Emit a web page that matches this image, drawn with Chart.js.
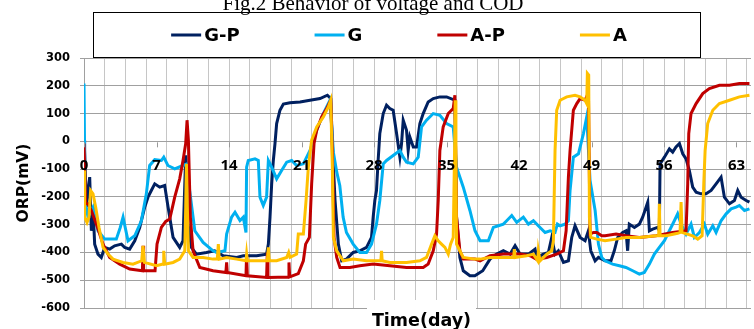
<!DOCTYPE html>
<html lang="en">
<head>
<meta charset="UTF-8">
<title>ORP over time</title>
<script src="https://cdn.jsdelivr.net/npm/chart.js"></script>
<style>
  html, body { margin: 0; padding: 0; background: #fff; }
  #wrap { width: 754px; height: 329px; position: relative; }
</style>
</head>
<body>
<div id="wrap"><canvas id="chart"></canvas></div>
<script>
// tick labels shown along the zero line (days)
const dayLabels = [0, 7, 14, 21, 28, 35, 42, 49, 56, 63];
const seriesNames = ['G-P', 'G', 'A-P', 'A'];
const figTitle = 'Fig.2 Behavior of voltage and COD';

// [day, ORP mV]
const gpData = [[0,4],[0.06,-33],[0.23,-237],[0.39,-177],[0.55,-129],[0.71,-322],[0.87,-237],[1.03,-370],[1.35,-406],[1.67,-418],[2.0,-382],[2.48,-388],[2.96,-376],[3.61,-370],[3.93,-382],[4.41,-388],[4.9,-358],[5.38,-310],[5.86,-237],[6.18,-201],[6.5,-177],[6.83,-153],[7.31,-165],[7.79,-159],[8.12,-237],[8.6,-346],[9.24,-382],[9.56,-358],[9.82,-50],[10.05,-298],[10.37,-382],[10.85,-406],[11.82,-400],[12.62,-394],[13.45,-412],[14.74,-418],[15.38,-412],[16.67,-412],[17.63,-406],[17.8,-370],[17.96,-273],[18.12,-153],[18.28,-69],[18.44,-8],[18.6,64],[18.92,112],[19.25,134],[19.89,139],[20.86,142],[21.82,148],[22.79,154],[23.5,166],[23.82,154],[24.01,-33],[24.24,-213],[24.56,-370],[24.88,-430],[25.34,-424],[25.99,-400],[26.63,-394],[27.28,-382],[27.76,-346],[27.92,-273],[28.08,-213],[28.24,-177],[28.4,-69],[28.56,28],[28.89,100],[29.21,130],[29.53,118],[29.85,112],[30.18,28],[30.5,-57],[30.66,-8],[30.82,76],[31.14,40],[31.3,-33],[31.46,16],[31.79,-20],[32.11,-20],[32.43,64],[32.75,100],[33.23,142],[33.72,154],[34.36,160],[35.01,160],[35.81,148],[35.97,-273],[36.29,-418],[36.62,-466],[37.26,-484],[37.74,-484],[38.5,-466],[39.2,-424],[39.85,-406],[40.49,-394],[41.14,-406],[41.62,-376],[42.1,-406],[42.91,-406],[43.55,-388],[43.71,-418],[44.36,-406],[44.84,-400],[45.16,-346],[45.48,-406],[45.8,-394],[46.29,-436],[46.77,-430],[47.09,-346],[47.41,-304],[47.9,-346],[48.38,-358],[48.7,-322],[48.93,-394],[49.35,-430],[49.67,-418],[50.31,-430],[50.88,-430],[51.2,-394],[51.53,-346],[52.01,-328],[52.33,-322],[52.49,-394],[52.65,-298],[53.14,-310],[53.62,-298],[53.94,-273],[54.43,-219],[54.59,-322],[54.91,-316],[55.39,-310],[55.55,-322],[55.62,-81],[56.04,-57],[56.52,-27],[56.84,-39],[57.16,-20],[57.49,-8],[57.81,-45],[58.13,-63],[58.45,-105],[58.77,-165],[59.1,-183],[59.58,-189],[60.06,-189],[60.55,-177],[61.03,-153],[61.51,-129],[61.83,-201],[62.32,-225],[62.8,-213],[63.12,-177],[63.44,-201],[63.93,-213],[64.25,-219]];

const gData = [[0,208],[0.1,-213],[0.39,-273],[0.87,-237],[1.35,-322],[2.0,-352],[3.12,-352],[3.5,-310],[3.77,-273],[4.25,-358],[4.9,-340],[5.54,-286],[6.02,-189],[6.34,-87],[6.83,-66],[7.47,-69],[7.7,-57],[8.1,-87],[8.76,-99],[9.56,-87],[9.95,-81],[10.2,-177],[10.7,-322],[11.5,-364],[12.46,-394],[12.8,-400],[13.61,-394],[13.77,-334],[14.25,-273],[14.58,-255],[15.06,-285],[15.38,-273],[15.64,-328],[15.7,-93],[15.86,-69],[16.51,-63],[16.83,-69],[16.99,-201],[17.31,-231],[17.63,-201],[17.8,-69],[18.12,-93],[18.6,-135],[19.08,-105],[19.57,-75],[20.05,-69],[20.53,-87],[21.18,-81],[21.82,-33],[22.47,40],[23.11,100],[23.75,148],[24.08,-40],[24.4,-110],[24.7,-160],[25.02,-273],[25.34,-328],[25.99,-370],[26.63,-400],[27.28,-400],[27.76,-370],[28.24,-298],[28.56,-213],[28.89,-81],[29.21,-69],[29.85,-51],[30.5,-33],[30.82,-57],[31.14,-75],[31.79,-81],[32.27,-57],[32.59,52],[33.07,76],[33.72,100],[34.36,94],[35.01,64],[35.65,52],[35.97,-93],[36.62,-165],[37.26,-249],[37.75,-322],[38.24,-358],[39.04,-358],[39.52,-310],[40.01,-304],[40.49,-298],[40.81,-286],[41.3,-267],[41.78,-292],[42.42,-273],[42.91,-298],[43.39,-286],[44.03,-310],[44.52,-328],[45.0,-322],[45.48,-328],[45.71,-298],[45.97,-304],[46.45,-298],[46.77,-286],[46.93,-177],[47.25,-57],[47.74,-45],[48.22,28],[48.54,88],[48.86,-141],[49.35,-249],[49.67,-370],[49.99,-418],[50.31,-430],[51.04,-442],[51.69,-448],[52.33,-454],[52.98,-466],[53.62,-478],[54.1,-472],[54.59,-442],[55.07,-406],[55.55,-382],[56.04,-358],[56.52,-322],[57.0,-286],[57.32,-261],[57.65,-298],[58.13,-334],[58.61,-298],[58.93,-346],[59.42,-328],[59.9,-298],[60.22,-334],[60.71,-304],[61.03,-328],[61.51,-286],[62.0,-261],[62.48,-243],[62.96,-237],[63.28,-231],[63.77,-249],[64.25,-243]];

const apData = [[0,-8],[0.16,-225],[0.39,-225],[0.71,-249],[1.19,-298],[1.84,-370],[2.48,-418],[3.45,-442],[4.41,-460],[5.64,-466],[5.7,-376],[5.76,-466],[6.86,-466],[7.05,-370],[7.47,-310],[7.89,-288],[8.28,-280],[8.76,-201],[9.24,-135],[9.56,-69],[9.82,-8],[9.95,76],[10.08,4],[10.27,-273],[10.53,-394],[11.18,-454],[12.46,-466],[13.7,-472],[13.77,-436],[13.83,-472],[15.64,-484],[15.7,-406],[15.77,-484],[17.63,-490],[17.7,-400],[17.76,-490],[19.73,-488],[19.79,-436],[19.86,-488],[20.69,-476],[21.18,-430],[21.4,-370],[21.76,-346],[21.98,-153],[22.21,-8],[22.47,40],[22.95,88],[23.43,118],[23.82,148],[23.98,-33],[24.14,-346],[24.4,-418],[24.72,-454],[25.67,-454],[26.63,-448],[27.92,-442],[29.53,-448],[31.14,-454],[32.75,-454],[33.23,-442],[33.72,-394],[34.04,-334],[34.2,-213],[34.36,-33],[34.68,52],[35.17,100],[35.65,118],[35.81,166],[35.97,-273],[36.29,-394],[36.62,-424],[37.74,-424],[38.24,-430],[39.2,-412],[40.49,-406],[42.1,-406],[43.07,-412],[43.71,-425],[44.68,-418],[45.64,-406],[46.29,-394],[46.55,-322],[46.77,-129],[46.93,-33],[47.25,112],[47.58,136],[47.9,154],[48.38,148],[48.6,166],[48.7,190],[48.86,-334],[49.19,-328],[49.51,-328],[49.99,-340],[50.31,-340],[51.37,-334],[52.33,-340],[53.62,-346],[55.23,-340],[56.84,-328],[58.13,-322],[58.29,-153],[58.39,28],[58.61,100],[59.1,136],[59.74,172],[60.38,190],[61.35,202],[62.32,202],[63.28,208],[64.25,208]];

const aData = [[0,-105],[0.06,-273],[0.29,-292],[0.48,-273],[0.64,-177],[0.87,-189],[1.13,-237],[1.45,-310],[1.84,-382],[2.32,-406],[2.8,-424],[3.77,-436],[4.73,-442],[5.57,-430],[5.7,-376],[5.83,-436],[6.99,-448],[7.63,-442],[7.7,-394],[7.79,-442],[8.6,-436],[9.24,-424],[9.73,-394],[9.82,-237],[9.89,-81],[9.98,-237],[10.08,-394],[10.53,-418],[11.5,-418],[12.46,-424],[12.87,-424],[12.97,-370],[13.06,-424],[13.77,-418],[14.74,-424],[15.64,-430],[15.7,-406],[15.77,-430],[17.7,-430],[17.8,-382],[17.89,-430],[18.6,-430],[19.57,-418],[19.76,-400],[19.89,-418],[20.53,-406],[20.69,-334],[21.18,-334],[21.44,-213],[21.66,-93],[21.98,4],[22.47,52],[23.11,88],[23.59,124],[23.82,148],[23.98,-93],[24.08,-346],[24.4,-394],[25.04,-430],[25.99,-424],[27.28,-430],[28.66,-430],[28.73,-394],[28.79,-430],[29.53,-436],[31.14,-436],[32.43,-430],[33.07,-418],[33.56,-370],[33.88,-340],[34.2,-358],[34.52,-370],[34.85,-382],[35.17,-406],[35.39,-370],[35.65,-346],[35.78,-33],[35.84,148],[35.91,-33],[35.97,-370],[36.29,-394],[36.62,-418],[37.74,-424],[38.24,-424],[39.2,-418],[40.49,-418],[41.49,-418],[41.55,-388],[41.62,-418],[42.74,-412],[43.39,-406],[43.81,-430],[43.87,-394],[44.03,-430],[44.68,-406],[45.16,-394],[45.32,-358],[45.48,-33],[45.64,112],[45.97,148],[46.61,160],[47.41,166],[47.9,160],[48.38,148],[48.54,136],[48.6,245],[48.73,239],[48.8,-273],[48.93,-346],[49.51,-352],[50.31,-358],[51.37,-352],[52.33,-346],[53.62,-346],[55.23,-340],[55.49,-340],[55.55,-225],[55.62,-340],[56.2,-340],[57.32,-331],[57.55,-328],[57.65,-219],[57.74,-328],[58.77,-340],[59.26,-352],[59.68,-340],[59.84,-153],[59.97,-33],[60.22,64],[60.71,112],[61.35,136],[62.32,148],[63.28,160],[64.25,166]];

const seriesColors = ['#002060', '#00B0F0', '#C00000', '#FFC000'];
const allSeries = [gpData, gData, apData, aData];

const toPoints = arr => arr.map(p => ({ x: p[0], y: p[1] }));

// draws title, legend box, day labels and axis titles
const decorations = {
    id: 'decorations',
    afterDraw(chart) {
        const c = chart.ctx;
        const xs = chart.scales.x;
        const ys = chart.scales.y;
        const y0 = ys.getPixelForValue(0);
        c.save();

        // day ticks and labels on the zero line
        c.strokeStyle = '#999';
        c.lineWidth = 1;
        c.fillStyle = '#000';
        c.font = 'bold 15px "Open Sans"';
        c.textAlign = 'center';
        c.textBaseline = 'middle';
        dayLabels.forEach(d => {
            const px = Math.round(xs.getPixelForValue(d)) + 0.5;
            c.beginPath();
            c.moveTo(px, y0 + 1);
            c.lineTo(px, y0 + 6);
            c.stroke();
            c.fillText(String(d), xs.getPixelForValue(d), y0 + 24.5);
        });

        // x title with white patch
        c.fillStyle = '#fff';
        c.fillRect(367, 300, 109, 29);
        c.fillStyle = '#000';
        c.font = 'bold 17.5px "DejaVu Sans"';
        c.textBaseline = 'alphabetic';
        c.fillText('Time(day)', (chart.chartArea.left + chart.chartArea.right) / 2 + 4, 326);

        // y title
        c.save();
        c.translate(24, (chart.chartArea.top + chart.chartArea.bottom) / 2);
        c.rotate(-Math.PI / 2);
        c.font = 'bold 15.5px "DejaVu Sans"';
        c.textBaseline = 'middle';
        c.fillText('ORP(mV)', 0, 0);
        c.restore();

        // legend box
        c.fillStyle = '#fff';
        c.fillRect(93, 12, 608, 45.5);
        c.strokeStyle = '#000';
        c.lineWidth = 1;
        c.strokeRect(93.5, 12.5, 607, 45);

        c.font = 'bold 18px "DejaVu Sans"';
        c.textAlign = 'left';
        c.textBaseline = 'middle';
        const lineLen = 30, gap = 3, spacing = 75;
        const widths = seriesNames.map(n => lineLen + gap + c.measureText(n).width);
        const total = widths.reduce((a, b) => a + b, 0) + spacing * (seriesNames.length - 1);
        let lx = 399 - total / 2;
        const ly = 35;
        seriesNames.forEach((n, i) => {
            c.fillStyle = seriesColors[i];
            c.fillRect(lx, ly - 1.5, lineLen, 3);
            c.fillStyle = '#000';
            c.fillText(n, lx + lineLen + gap, ly + 1);
            lx += widths[i] + spacing;
        });

        // clipped figure title at the very top
        c.font = '21px "Liberation Serif"';
        c.textAlign = 'center';
        c.textBaseline = 'alphabetic';
        c.fillText(figTitle, 373, 10);

        c.restore();
    }
};

const ctx = document.getElementById('chart').getContext('2d');
const chart = new Chart(ctx, {
    type: 'line',
    data: {
        datasets: seriesNames.map((name, i) => ({
            label: name,
            data: toPoints(allSeries[i]),
            borderColor: seriesColors[i],
            backgroundColor: seriesColors[i],
            borderWidth: 3,
            pointRadius: 0,
            tension: 0,
            fill: false,
            order: seriesNames.length - i
        }))
    },
    options: {
        responsive: true,
        maintainAspectRatio: false,
        animation: false,
        devicePixelRatio: 1,
        layout: { padding: { top: 58, right: 3, left: 0, bottom: 0 } },
        plugins: {
            legend: { display: false },
            title: { display: false },
            tooltip: { enabled: false }
        },
        scales: {
            x: {
                type: 'linear',
                min: 0,
                max: 64.4,
                afterBuildTicks: s => {
                    const t = [];
                    for (let d = 0; d <= 64; d += 2) t.push({ value: d });
                    s.ticks = t;
                },
                afterFit: s => { s.height = 21; },
                ticks: { display: false },
                grid: { color: '#c6c6c6', lineWidth: 1, drawTicks: false },
                border: { display: false }
            },
            y: {
                min: -600,
                max: 300,
                afterFit: s => { s.width = 84; },
                ticks: {
                    stepSize: 100,
                    color: '#000',
                    padding: 10,
                    font: { family: 'DejaVu Sans', weight: 'bold', size: 11.5 }
                },
                grid: { color: '#a0a0a0', lineWidth: 1, tickLength: 4 },
                border: { color: '#a0a0a0' }
            }
        }
    },
    plugins: [decorations]
});
</script>
</body>
</html>
